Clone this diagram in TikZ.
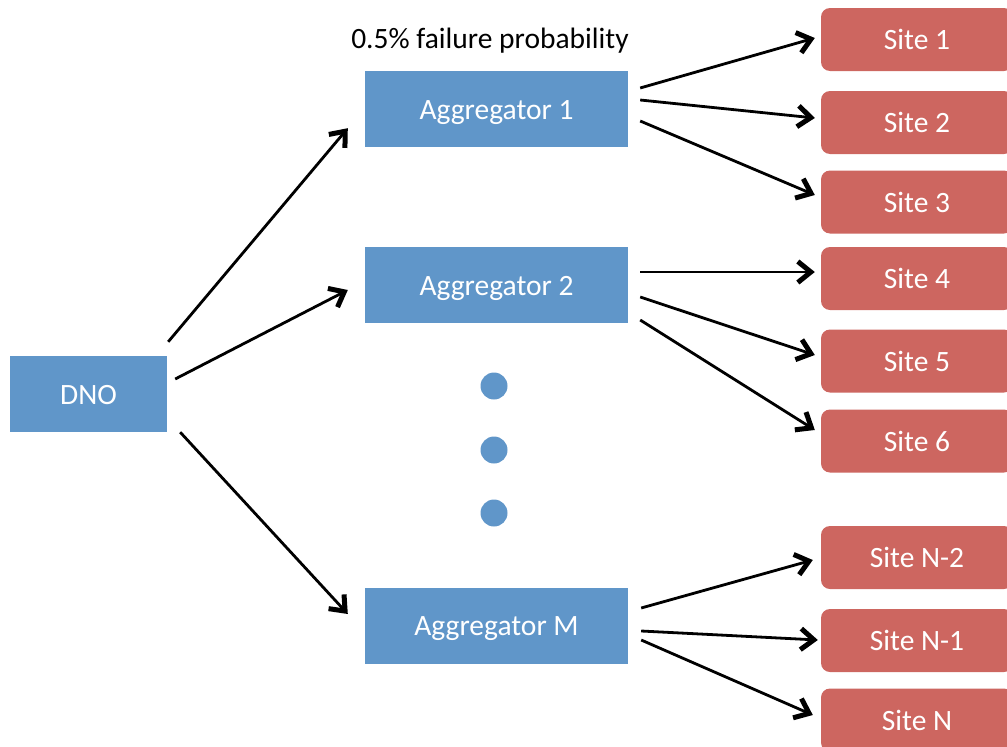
\documentclass[tikz,border=0pt]{standalone}
\usepackage{fontspec}
\setmainfont{Carlito}
\usetikzlibrary{arrows.meta,calc}
\definecolor{aggblue}{HTML}{6096C9}
\definecolor{sitered}{HTML}{CD6660}
\tikzset{
  lbl/.style={font=\fontsize{29.5}{32}\selectfont,text height=20pt,text depth=0pt},
  agg/.style={lbl,rectangle,fill=aggblue,text=white,minimum width=263pt,minimum height=76pt,inner sep=0pt},
  dnobox/.style={agg,minimum width=157pt},
  site/.style={lbl,rectangle,rounded corners=9pt,fill=sitered,text=white,minimum width=192pt,minimum height=63pt,inner sep=0pt},
  dotc/.style={circle,fill=aggblue,minimum size=27pt,inner sep=0pt},
  conn/.style={line width=2.8pt,-{Straight Barb[length=13pt,width=21pt,line width=5pt]}},
}
\begin{document}
\begin{tikzpicture}[x=1pt,y=-1pt]
\useasboundingbox (0,0) rectangle (1007,747);
\clip (0,0) rectangle (1007,747);
\node[dnobox] (dno) at (88.5,394) {DNO};
\node[agg] (agg1) at (496.5,109) {Aggregator 1};
\node[agg] (agg2) at (496.5,285) {Aggregator 2};
\node[agg] (aggm) at (496.5,625.5) {Aggregator M};
\node[lbl,inner sep=0pt] (prob) at (490,38) {0.5\% failure probability};
\node[dotc] (d1) at (494,386) {};
\node[dotc] (d2) at (494,450) {};
\node[dotc] (d3) at (494,513) {};
\node[site] (s1) at (917,39.5) {Site 1};
\node[site] (s2) at (917,122.5) {Site 2};
\node[site] (s3) at (917,202) {Site 3};
\node[site] (s4) at (917,278.5) {Site 4};
\node[site] (s5) at (917,361) {Site 5};
\node[site] (s6) at (917,441) {Site 6};
\node[site] (sn2) at (917,557.5) {Site N-2};
\node[site] (sn1) at (917,640.5) {Site N-1};
\node[site] (sn) at (917,720) {Site N};
\draw[conn] ($(dno.north east)+(1,-14)$) -- ($(agg1.south west)+(-17,-19)$);
\draw[conn] ($(dno.east)+(8,-15)$) -- ($(agg2.west)+(-17,5)$);
\draw[conn] ($(dno.south east)+(13,0)$) -- ($(aggm.west)+(-17,-11.5)$);
\draw[conn] ($(agg1.east)+(12,-21)$) -- ($(s1.west)+(-6,-1.5)$);
\draw[conn] ($(agg1.east)+(12,-9)$) -- ($(s2.west)+(-6,-4.5)$);
\draw[conn] ($(agg1.east)+(12,12)$) -- ($(s3.west)+(-6,-7)$);
\draw[conn] ($(agg2.east)+(12,-13)$) -- ($(s4.west)+(-6,-6.5)$);
\draw[conn] ($(agg2.east)+(12,12)$) -- ($(s5.west)+(-6,-6)$);
\draw[conn] ($(agg2.east)+(12,35)$) -- ($(s6.west)+(-6,-11)$);
\draw[conn] ($(aggm.east)+(13,-17.5)$) -- ($(sn2.west)+(-8,2.5)$);
\draw[conn] ($(aggm.east)+(13,5.5)$) -- ($(sn1.west)+(-3,-0.5)$);
\draw[conn] ($(aggm.east)+(13,14.5)$) -- ($(sn.west)+(-8,-5)$);
\end{tikzpicture}
\end{document}
